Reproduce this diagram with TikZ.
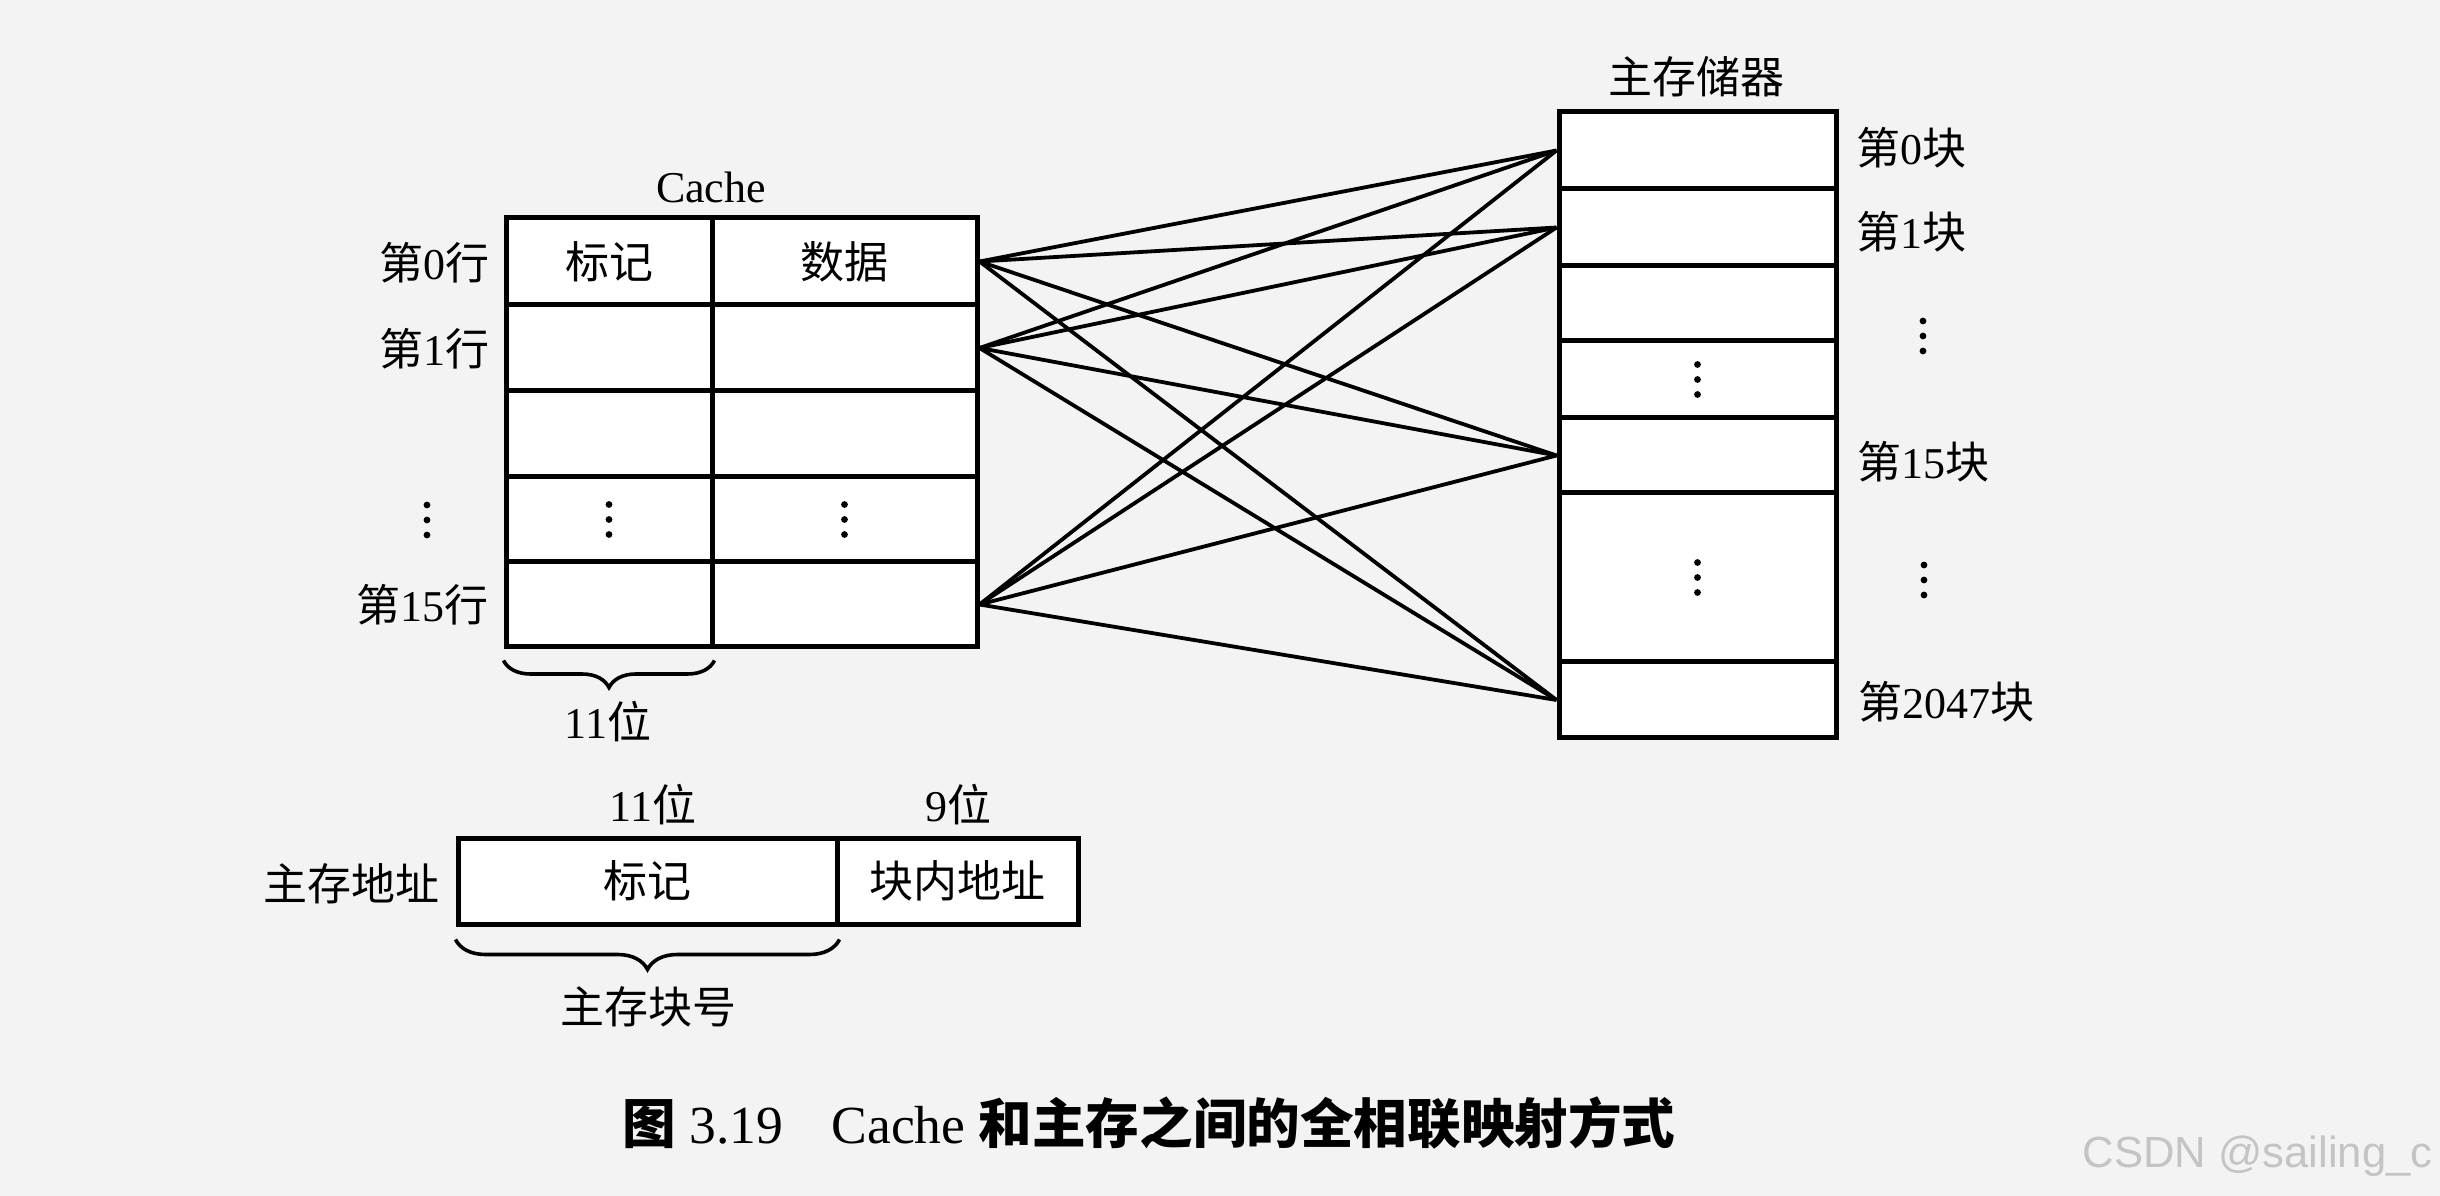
\documentclass[tikz,border=0pt]{standalone}
\usepackage{fontspec}
\setmainfont{Liberation Serif}
\newfontfamily\cjk{Noto Sans CJK SC}
\newfontfamily\wmfont{Liberation Sans}
\newcommand\zh[1]{{\cjk #1}}
\newcommand\dfont{\fontsize{11}{13}\selectfont}
\newcommand\capfont{\fontsize{13.4}{16}\selectfont}
\usetikzlibrary{decorations.pathreplacing}
\definecolor{bgcol}{HTML}{F3F3F3}
\definecolor{wmcol}{HTML}{C4C4C4}
\begin{document}
\begin{tikzpicture}[x=0.25pt,y=-0.25pt,
  cell/.style={draw, line width=1.25pt, fill=white, inner sep=0pt},
  lbl/.style={inner sep=0pt, font=\dfont},
  conn/.style={line width=0.95pt},
  brc/.style={decorate, line width=0.9pt},
  vdts/.pic={\foreach \k in {-15,0,15} \fill (0,\k) circle[radius=0.85pt];}]
\fill[bgcol] (0,0) rectangle (2440,1196);
% Cache
\foreach \i/\y/\h in {0/261.5/21.75, 1/348/21.5, 2/434/21.5, 3/519.5/21.25, 4/604.5/21.25}{
  \node[cell, minimum width=51.5pt, minimum height=\h pt] (t\i) at (609,\y) {};
  \node[cell, minimum width=66.25pt, minimum height=\h pt] (d\i) at (844.5,\y) {};
}
\node[lbl] (cachet) at (711,187) {Cache};
\node[lbl] (tagh) at (t0) {\zh{标记}};
\node[lbl] (datah) at (d0) {\zh{数据}};
\pic at (t3) {vdts};
\pic at (d3) {vdts};
\node[lbl, anchor=east] (l0) at (490,263) {\zh{第}0\zh{行}};
\node[lbl, anchor=east] (l1) at (490,349) {\zh{第}1\zh{行}};
\pic at (427,520) {vdts};
\node[lbl, anchor=east] (l15) at (489,605) {\zh{第}15\zh{行}};
\draw[brc, decoration={brace, mirror, amplitude=6.75pt}] ([yshift=-2.75pt]t4.south west) -- ([yshift=-2.75pt]t4.south east);
\node[lbl] (b11) at (608,722) {11\zh{位}};
% Main memory
\foreach \j/\y/\h in {0/150.5/19.25, 1/227.5/19.25, 2/303.5/18.75, 3/379.5/19.25, 4/455.5/18.75, 5/577.5/42.25, 6/700/19}{
  \node[cell, minimum width=69.25pt, minimum height=\h pt] (m\j) at (1697.5,\y) {};
}
\node[lbl] (mmt) at (1696,77) {\zh{主存储器}};
\pic at (m3) {vdts};
\pic at (m5) {vdts};
\node[lbl, anchor=west] (k0) at (1856,148) {\zh{第}0\zh{块}};
\node[lbl, anchor=west] (k1) at (1856,232) {\zh{第}1\zh{块}};
\pic at (1923,336) {vdts};
\node[lbl, anchor=west] (k15) at (1857,462) {\zh{第}15\zh{块}};
\pic at (1924,580) {vdts};
\node[lbl, anchor=west] (k2047) at (1858,702) {\zh{第}2047\zh{块}};
% connectors
\foreach \i in {0,1,4}{
  \foreach \j in {0,1,4,6}{
    \draw[conn] (d\i.east) -- (m\j.west);
  }
}
% address
\node[cell, minimum width=94.75pt, minimum height=21.5pt] (at) at (647.5,881) {};
\node[cell, minimum width=60.25pt, minimum height=21.5pt] (ao) at (957.5,881) {};
\node[lbl] (att) at (at) {\zh{标记}};
\node[lbl] (aot) at (ao) {\zh{块内地址}};
\node[lbl, anchor=east] (addr) at (440,884) {\zh{主存地址}};
\node[lbl] (w11) at (653,805) {11\zh{位}};
\node[lbl] (w9) at (958,805) {9\zh{位}};
\draw[brc, decoration={brace, mirror, amplitude=7.5pt}] ([yshift=-3.25pt]at.south west) -- ([yshift=-3.25pt]at.south east);
\node[lbl] (blk) at (648,1007) {\zh{主存块号}};
% caption
\node[inner sep=0pt, font=\capfont] (cap) at (1149,1123) {{\cjk\bfseries 图} 3.19\hspace{0.9em}Cache {\cjk\bfseries 和主存之间的全相联映射方式}};
% watermark
\node[inner sep=0pt, anchor=west, text=wmcol, font=\wmfont\fontsize{10.9}{12}\selectfont] (wm) at (2082,1156) {CSDN @sailing\_c};
\end{tikzpicture}
\end{document}
